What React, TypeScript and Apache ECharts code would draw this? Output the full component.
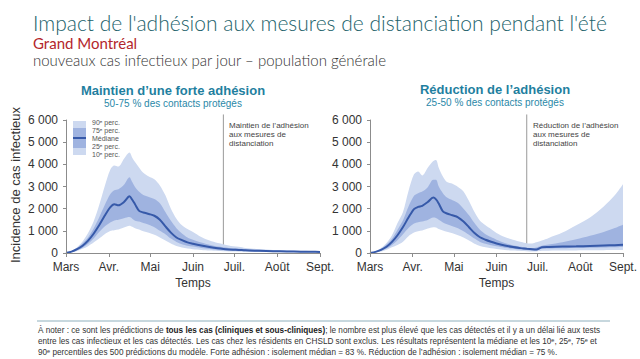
import React, { useEffect, useRef } from "react";
import * as echarts from "echarts";

// day index from 1 March (0) to 1 September (184)
const days = [0, 4, 8, 12, 16, 20, 24, 28, 32, 35, 38, 42, 46, 48, 50, 53, 56, 60, 64, 68, 72, 76, 80, 84, 88, 92, 98, 104, 110, 114, 118, 121, 125, 130, 140, 150, 160, 170, 178, 184];

// Left: Maintien d'une forte adhésion
const leftP10 = [0, 30, 90, 190, 310, 470, 650, 850, 990, 1030, 1060, 1150, 1230, 1180, 1120, 1060, 980, 910, 820, 700, 560, 430, 320, 250, 200, 170, 140, 110, 90, 80, 70, 65, 60, 50, 40, 35, 30, 28, 25, 22];
const leftP25 = [0, 40, 120, 240, 420, 650, 950, 1200, 1380, 1470, 1500, 1570, 1620, 1550, 1460, 1420, 1350, 1270, 1160, 1000, 850, 650, 500, 400, 330, 290, 230, 180, 140, 125, 110, 105, 100, 85, 70, 55, 50, 45, 40, 35];
const leftMed = [0, 60, 170, 330, 560, 870, 1250, 1680, 2060, 2200, 2150, 2300, 2560, 2400, 2200, 1900, 1830, 1760, 1680, 1500, 1200, 920, 700, 580, 480, 420, 340, 270, 210, 180, 160, 150, 140, 120, 100, 80, 70, 60, 55, 50];
const leftP75 = [0, 80, 230, 430, 700, 1100, 1600, 2150, 2650, 2830, 2880, 3080, 3420, 3200, 2980, 2760, 2620, 2530, 2440, 2250, 1850, 1450, 1120, 880, 700, 600, 470, 370, 290, 260, 230, 210, 200, 170, 140, 110, 95, 80, 72, 65];
const leftP90 = [0, 90, 260, 520, 900, 1420, 2150, 3000, 3750, 3950, 3900, 4250, 4530, 4300, 4100, 3850, 3620, 3450, 3330, 3050, 2600, 2000, 1550, 1250, 1080, 950, 720, 560, 450, 400, 340, 300, 280, 230, 180, 140, 120, 100, 90, 80];

// Right: Réduction de l'adhésion
const rightP10 = [0, 25, 70, 150, 260, 360, 510, 760, 920, 980, 1010, 1100, 1160, 1150, 1080, 1020, 960, 890, 800, 700, 560, 420, 320, 260, 210, 180, 140, 110, 90, 80, 70, 70, 100, 105, 110, 115, 120, 125, 130, 135];
const rightP25 = [0, 35, 100, 200, 360, 580, 850, 1130, 1330, 1390, 1420, 1490, 1600, 1580, 1500, 1380, 1300, 1210, 1120, 980, 820, 650, 500, 420, 350, 300, 240, 190, 150, 130, 115, 110, 190, 200, 210, 220, 235, 250, 260, 270];
const rightMed = [0, 50, 140, 280, 500, 800, 1170, 1600, 1980, 2080, 2130, 2300, 2500, 2420, 2230, 1880, 1780, 1700, 1610, 1420, 1160, 900, 710, 600, 510, 430, 340, 270, 220, 190, 165, 155, 260, 275, 290, 300, 320, 340, 355, 370];
const rightP75 = [0, 60, 180, 380, 640, 1050, 1480, 2100, 2580, 2700, 2770, 2970, 3300, 3300, 3000, 2700, 2500, 2380, 2260, 2000, 1700, 1350, 1050, 850, 720, 600, 450, 350, 280, 240, 220, 250, 330, 380, 490, 620, 780, 950, 1130, 1280];
const rightP90 = [0, 70, 220, 450, 800, 1350, 1850, 2800, 3550, 3680, 3500, 3850, 4150, 4200, 3850, 3450, 3200, 3120, 2980, 2780, 2350, 1850, 1450, 1250, 1080, 900, 720, 600, 500, 440, 430, 480, 560, 680, 920, 1250, 1600, 2100, 2600, 3100];

const monthTicks = [0, 31, 61, 92, 122, 153, 184];
const monthLabels = ["Mars", "Avr.", "Mai", "Juin", "Juil.", "Août", "Sept."];
const changeDay = 114;

const LIGHT = "#cdd9f0";
const DARK = "#9fb3e0";
const MED = "#3659a9";
const FONT = "'Liberation Sans', Arial, sans-serif";

function bandSeries(idx: number, p10: number[], p25: number[], med: number[], p75: number[], p90: number[]) {
  const mk = (vals: number[]) => days.map((d, i) => [d, vals[i]]);
  const base = { type: "line", xAxisIndex: idx, yAxisIndex: idx, symbol: "none", smooth: 0.3, lineStyle: { width: 0 } };
  return [
    { ...base, data: mk(p90), areaStyle: { color: LIGHT, opacity: 1 }, z: 2 },
    { ...base, data: mk(p75), areaStyle: { color: DARK, opacity: 1 }, z: 2 },
    { ...base, data: mk(p25), areaStyle: { color: LIGHT, opacity: 1 }, z: 2 },
    { ...base, data: mk(p10), areaStyle: { color: "#ffffff", opacity: 1 }, z: 2 },
    { type: "line", xAxisIndex: idx, yAxisIndex: idx, symbol: "none", smooth: 0.3, data: mk(med), lineStyle: { color: MED, width: 2 }, z: 3 },
    { type: "line", xAxisIndex: idx, yAxisIndex: idx, symbol: "none", clip: false, data: [[changeDay, 0], [changeDay, 6250]], lineStyle: { color: "#9a9a9a", width: 1 }, z: 1 },
  ];
}

function xAxis(idx: number) {
  return {
    type: "value", gridIndex: idx, min: 0, max: 184, z: 5,
    axisLine: { show: true, lineStyle: { color: "#8c8c8c", width: 1 } },
    axisTick: { show: true, customValues: monthTicks, length: 4, lineStyle: { color: "#8c8c8c" } },
    axisLabel: { customValues: monthTicks, formatter: (v: number) => monthLabels[monthTicks.indexOf(v)] ?? "", color: "#333", fontSize: 12, fontFamily: FONT, margin: 8 },
    splitLine: { show: false },
    name: "Temps", nameLocation: "middle", nameGap: 24,
    nameTextStyle: { color: "#333", fontSize: 12, fontFamily: FONT },
  };
}

function yAxis(idx: number) {
  return {
    type: "value", gridIndex: idx, min: 0, max: 6000, interval: 1000, z: 5,
    axisLine: { show: true, lineStyle: { color: "#8c8c8c", width: 1 } },
    axisTick: { show: true, length: 3, lineStyle: { color: "#8c8c8c" } },
    axisLabel: { formatter: (v: number) => (v === 0 ? "0" : `${v / 1000} 000`), color: "#333", fontSize: 12, fontFamily: FONT, margin: 8 },
    splitLine: { show: false },
  };
}

export default function App() {
  const ref = useRef<HTMLDivElement>(null);
  useEffect(() => {
    document.body.style.margin = "0";
    const chart = echarts.init(ref.current!, null, { renderer: "svg" });
    const legendLabels = ["90ᵉ perc.", "75ᵉ perc.", "Médiane", "25ᵉ perc.", "10ᵉ perc."];
    chart.setOption({
      animation: false,
      backgroundColor: "#ffffff",
      grid: [
        { left: 66, top: 120, width: 254, height: 133 },
        { left: 370, top: 120, width: 253, height: 133 },
      ],
      xAxis: [xAxis(0), xAxis(1)],
      yAxis: [yAxis(0), yAxis(1)],
      series: [
        ...bandSeries(0, leftP10, leftP25, leftMed, leftP75, leftP90),
        ...bandSeries(1, rightP10, rightP25, rightMed, rightP75, rightP90),
      ],
      graphic: [
        { type: "text", left: 33, top: 12, style: { text: "Impact de l'adhésion aux mesures de distanciation pendant l'été", fill: "#22626b", font: `300 21px Lato, 'Open Sans', sans-serif` } },
        { type: "text", left: 33, top: 35, style: { text: "Grand Montréal", fill: "#b3262b", font: `400 15px Lato, 'Open Sans', sans-serif` } },
        { type: "text", left: 33, top: 52, style: { text: "nouveaux cas infectieux par jour – population générale", fill: "#333", font: `300 15px Lato, 'Open Sans', sans-serif` } },
        { type: "text", x: 173, y: 90, style: { text: "Maintien d’une forte adhésion", fill: "#1f7f9f", font: `bold 13px ${FONT}`, align: "center", verticalAlign: "middle" } },
        { type: "text", x: 173, y: 103, style: { text: "50-75 % des contacts protégés", fill: "#2a88a8", font: `10px ${FONT}`, align: "center", verticalAlign: "middle" } },
        { type: "text", x: 495, y: 89, style: { text: "Réduction de l’adhésion", fill: "#1f7f9f", font: `bold 13px ${FONT}`, align: "center", verticalAlign: "middle" } },
        { type: "text", x: 495, y: 102, style: { text: "25-50 % des contacts protégés", fill: "#2a88a8", font: `10px ${FONT}`, align: "center", verticalAlign: "middle" } },
        { type: "text", x: 15, y: 185, rotation: Math.PI / 2, style: { text: "Incidence de cas infectieux", fill: "#333", font: `13px ${FONT}`, align: "center", verticalAlign: "middle" } },
        { type: "text", x: 229, y: 121, style: { text: "Maintien de l’adhésion\naux mesures de\ndistanciation", fill: "#444", font: `8px ${FONT}`, lineHeight: 9 } },
        { type: "text", x: 533, y: 121, style: { text: "Réduction de l’adhésion\naux mesures de\ndistanciation", fill: "#444", font: `8px ${FONT}`, lineHeight: 9 } },
        { type: "rect", shape: { x: 73, y: 121, width: 13, height: 34 }, style: { fill: LIGHT } },
        { type: "rect", shape: { x: 73, y: 128, width: 13, height: 20 }, style: { fill: DARK } },
        { type: "line", shape: { x1: 73, y1: 138, x2: 86, y2: 138 }, style: { stroke: MED, lineWidth: 2 } },
        ...legendLabels.map((t, i) => ({ type: "text", x: 92, y: 122 + i * 8, style: { text: t, fill: "#555", font: `7px ${FONT}`, verticalAlign: "middle" } })),
        { type: "line", shape: { x1: 37, y1: 321, x2: 610, y2: 321 }, style: { stroke: "#8fb0bd", lineWidth: 1 } },
        {
          type: "text", x: 38, y: 325,
          style: {
            text: "À noter : ce sont les prédictions de {b|tous les cas (cliniques et sous-cliniques)}; le nombre est plus élevé que les cas détectés et il y a un délai lié aux tests\nentre les cas infectieux et les cas détectés. Les cas chez les résidents en CHSLD sont exclus. Les résultats représentent la médiane et les 10ᵉ, 25ᵉ, 75ᵉ et\n90ᵉ percentiles des 500 prédictions du modèle. Forte adhésion : isolement médian = 83 %. Réduction de l’adhésion : isolement médian = 75 %.",
            fill: "#333", font: `8.2px ${FONT}`, lineHeight: 11,
            rich: { b: { fontWeight: "bold", fontSize: 8.2, fontFamily: FONT, fill: "#222" } },
          },
        },
      ],
    });
    return () => chart.dispose();
  }, []);
  return <div ref={ref} style={{ position: "fixed", left: 0, top: 0, width: 640, height: 359, background: "#fff" }} />;
}
